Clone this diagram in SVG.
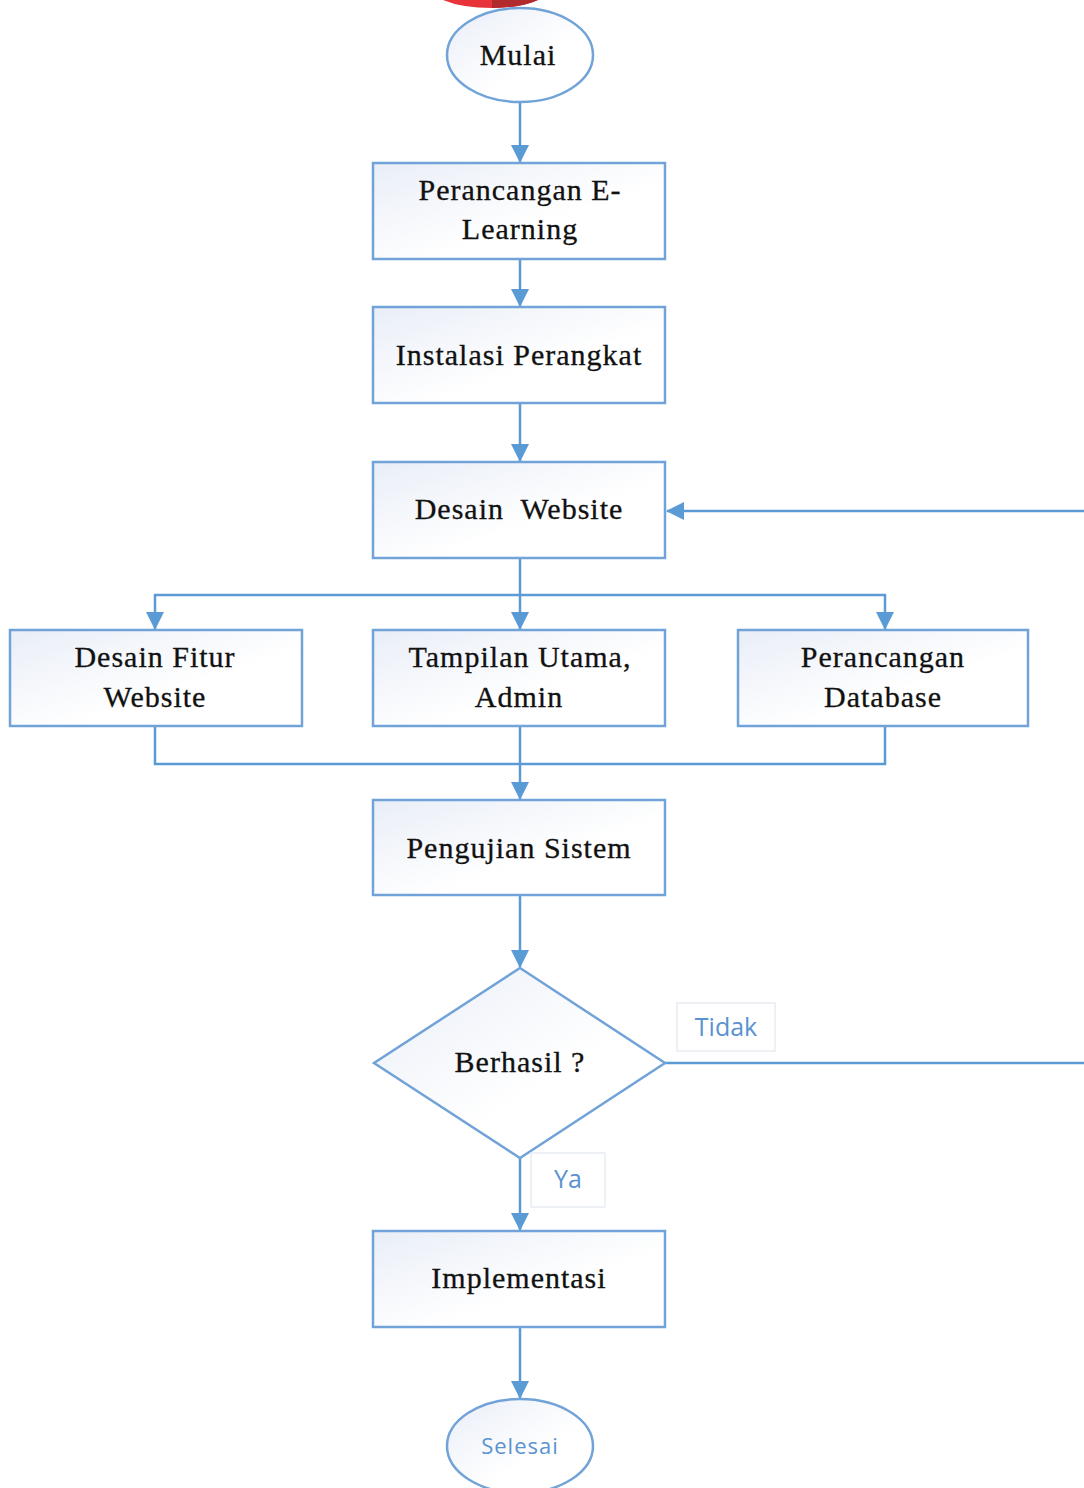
<svg xmlns="http://www.w3.org/2000/svg" width="1084" height="1488" viewBox="0 0 1084 1488">
<style>
.shape{fill:url(#g);stroke:#72a3d8;stroke-width:2.5}
.t{font-family:"Liberation Serif","Times New Roman",serif;font-size:30px;letter-spacing:1px;fill:#111;stroke:#111;stroke-width:0.3;text-anchor:middle}
.lbl{font-family:"Open Sans","Liberation Sans",sans-serif;font-size:25px;fill:#5b92d0;text-anchor:middle}
.lblbox{fill:#fff;stroke:#e8edf3;stroke-width:1.5}
.c{fill:none;stroke:#5b9bd5;stroke-width:2.5}
</style>
<defs>
<linearGradient id="g" x1="0" y1="0" x2="1" y2="1">
<stop offset="0" stop-color="#e9eef7"/>
<stop offset="0.6" stop-color="#ffffff"/>
<stop offset="1" stop-color="#ffffff"/>
</linearGradient>
<marker id="ah" markerWidth="18" markerHeight="18" refX="17" refY="9" orient="auto" markerUnits="userSpaceOnUse" viewBox="0 0 18 18">
<path d="M0,0 L18,9 L0,18 z" fill="#5b9bd5"/>
</marker>
</defs>
<rect width="1084" height="1488" fill="#fff"/>
<path d="M443,0 L538,0 Q520,8 492,8 Q462,8 443,0 z" fill="#e8333a"/>
<path d="M492,0 L538,0 Q525,7 492,8 z" fill="#b02a2e"/>
<g id="connectors">
<line class="c" x1="520" y1="103" x2="520" y2="162" marker-end="url(#ah)"/>
<line class="c" x1="520" y1="259" x2="520" y2="306" marker-end="url(#ah)"/>
<line class="c" x1="520" y1="403" x2="520" y2="461" marker-end="url(#ah)"/>
<line class="c" x1="520" y1="558" x2="520" y2="629" marker-end="url(#ah)"/>
<polyline class="c" points="520,595 155,595 155,629" marker-end="url(#ah)"/>
<polyline class="c" points="520,595 885,595 885,629" marker-end="url(#ah)"/>
<polyline class="c" points="155,726 155,764 885,764 885,726"/>
<line class="c" x1="520" y1="726" x2="520" y2="799" marker-end="url(#ah)"/>
<line class="c" x1="520" y1="895" x2="520" y2="967" marker-end="url(#ah)"/>
<line class="c" x1="665" y1="1063" x2="1084" y2="1063"/>
<line class="c" x1="1084" y1="511" x2="667" y2="511" marker-end="url(#ah)"/>
<line class="c" x1="520" y1="1158" x2="520" y2="1230" marker-end="url(#ah)"/>
<line class="c" x1="520" y1="1327" x2="520" y2="1398" marker-end="url(#ah)"/>
</g>
<g id="mulai">
<ellipse class="shape" cx="520" cy="55" rx="73" ry="47"/>
<text class="t" x="518" y="65">Mulai</text>
</g>
<g id="perancangan-elearning">
<rect class="shape" x="373" y="163" width="292" height="96"/>
<text class="t" x="520" y="200">Perancangan E-</text>
<text class="t" x="520" y="239">Learning</text>
</g>
<g id="instalasi">
<rect class="shape" x="373" y="307" width="292" height="96"/>
<text class="t" x="519" y="365">Instalasi Perangkat</text>
</g>
<g id="desain-website">
<rect class="shape" x="373" y="462" width="292" height="96"/>
<text class="t" x="519" y="519" xml:space="preserve">Desain  Website</text>
</g>
<g id="desain-fitur">
<rect class="shape" x="10" y="630" width="292" height="96"/>
<text class="t" x="155" y="667">Desain Fitur</text>
<text class="t" x="155" y="707">Website</text>
</g>
<g id="tampilan">
<rect class="shape" x="373" y="630" width="292" height="96"/>
<text class="t" x="520" y="667">Tampilan Utama,</text>
<text class="t" x="519" y="707">Admin</text>
</g>
<g id="perancangan-db">
<rect class="shape" x="738" y="630" width="290" height="96"/>
<text class="t" x="883" y="667">Perancangan</text>
<text class="t" x="883" y="707">Database</text>
</g>
<g id="pengujian">
<rect class="shape" x="373" y="800" width="292" height="95"/>
<text class="t" x="519" y="858">Pengujian Sistem</text>
</g>
<g id="berhasil">
<polygon class="shape" points="520,968 665,1063 520,1158 374,1063"/>
<text class="t" x="520" y="1072">Berhasil ?</text>
</g>
<g id="label-tidak">
<rect class="lblbox" x="677" y="1003" width="98" height="48"/>
<text class="lbl" x="726" y="1036">Tidak</text>
</g>
<g id="label-ya">
<rect class="lblbox" x="531" y="1153" width="74" height="54"/>
<text class="lbl" x="568" y="1188">Ya</text>
</g>
<g id="implementasi">
<rect class="shape" x="373" y="1231" width="292" height="96"/>
<text class="t" x="519" y="1288">Implementasi</text>
</g>
<g id="selesai">
<ellipse class="shape" cx="520" cy="1446" rx="73" ry="47"/>
<text class="lbl" x="520" y="1454" style="font-size:22px;letter-spacing:1px">Selesai</text>
</g>
</svg>
